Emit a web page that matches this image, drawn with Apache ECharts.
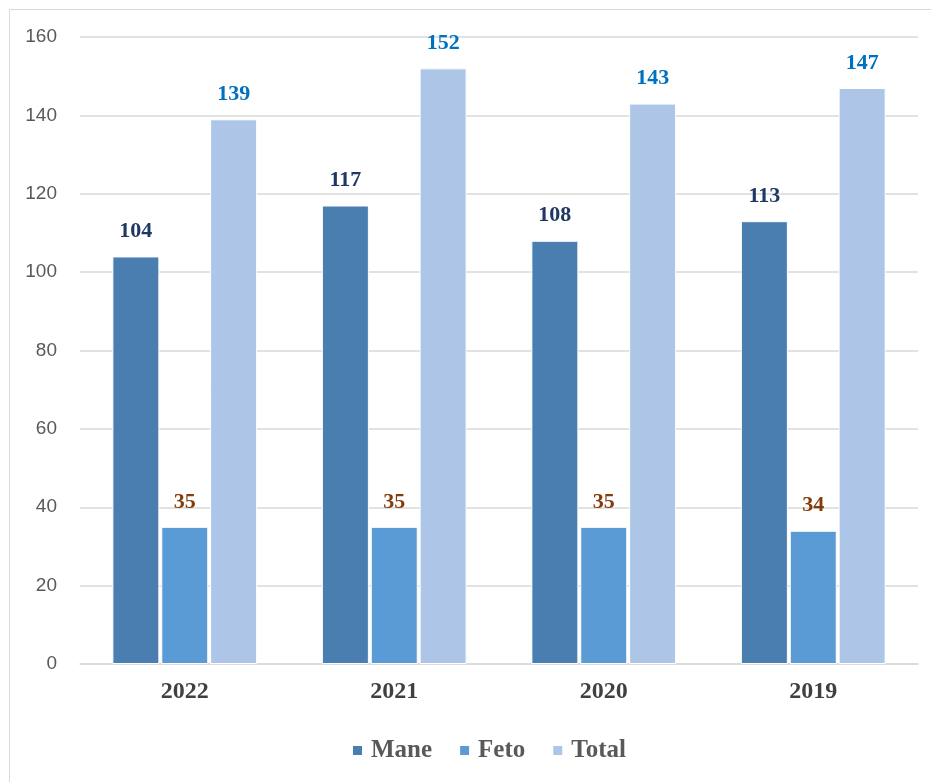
<!DOCTYPE html>
<html lang="en" style="height: 100%">
<head>
  <meta charset="utf-8">
</head>
<body style="height: 100%; margin: 0; background: #fff">
  <div id="container" style="width: 931px; height: 782px"></div>

  <script type="text/javascript" src="https://fastly.jsdelivr.net/npm/echarts@6/dist/echarts.min.js"></script>
  <script type="text/javascript">
    var years = ['2022', '2021', '2020', '2019'];
    var mane = [104, 117, 108, 113];
    var feto = [35, 35, 35, 34];
    var total = [139, 152, 143, 147];

    var myChart = echarts.init(document.getElementById('container'), null, { renderer: 'canvas' });

    var serif = '"Liberation Serif", "Times New Roman", serif';

    function barSeries(name, data, color, labelColor) {
      return {
        name: name,
        type: 'bar',
        data: data,
        barWidth: 47,
        barGap: '4%',
        itemStyle: { color: color, borderColor: '#fff', borderWidth: 1 },
        label: {
          show: true,
          position: 'top',
          distance: 14,
          color: labelColor,
          fontFamily: serif,
          fontWeight: 'bold',
          fontSize: 22
        }
      };
    }

    var option = {
      animation: false,
      graphic: [{
        type: 'rect',
        shape: { x: 9.5, y: 9.5, width: 960, height: 820 },
        style: { fill: 'none', stroke: '#d9d9d9', lineWidth: 1 }
      }],
      legend: {
        bottom: 14,
        left: 346,
        itemWidth: 11,
        itemHeight: 11,
        itemGap: 26,
        icon: 'rect',
        textStyle: { fontFamily: serif, fontWeight: 'bold', fontSize: 25, color: '#595959', padding: [0, 0, 0, 3] },
        data: ['Mane', 'Feto', 'Total']
      },
      grid: { left: 80, right: 13, top: 37, bottom: 118, containLabel: false },
      xAxis: {
        type: 'category',
        data: years,
        axisLine: { lineStyle: { color: '#d9d9d9', width: 1.5 } },
        axisTick: { show: false },
        axisLabel: {
          margin: 16,
          fontFamily: serif,
          fontWeight: 'bold',
          fontSize: 24,
          color: '#404040'
        }
      },
      yAxis: {
        type: 'value',
        min: 0,
        max: 160,
        interval: 20,
        axisLine: { show: false },
        axisTick: { show: false },
        splitLine: { lineStyle: { color: '#d9d9d9', width: 1.5 } },
        axisLabel: {
          margin: 23,
          fontFamily: '"Liberation Sans", Arial, sans-serif',
          fontSize: 19,
          color: '#595959'
        }
      },
      series: [
        barSeries('Mane', mane, '#4a7eb0', '#1f3864'),
        barSeries('Feto', feto, '#5b9bd5', '#843c0c'),
        barSeries('Total', total, '#adc6e7', '#0070c0')
      ]
    };

    myChart.setOption(option);
    window.addEventListener('resize', myChart.resize);
  </script>
</body>
</html>
